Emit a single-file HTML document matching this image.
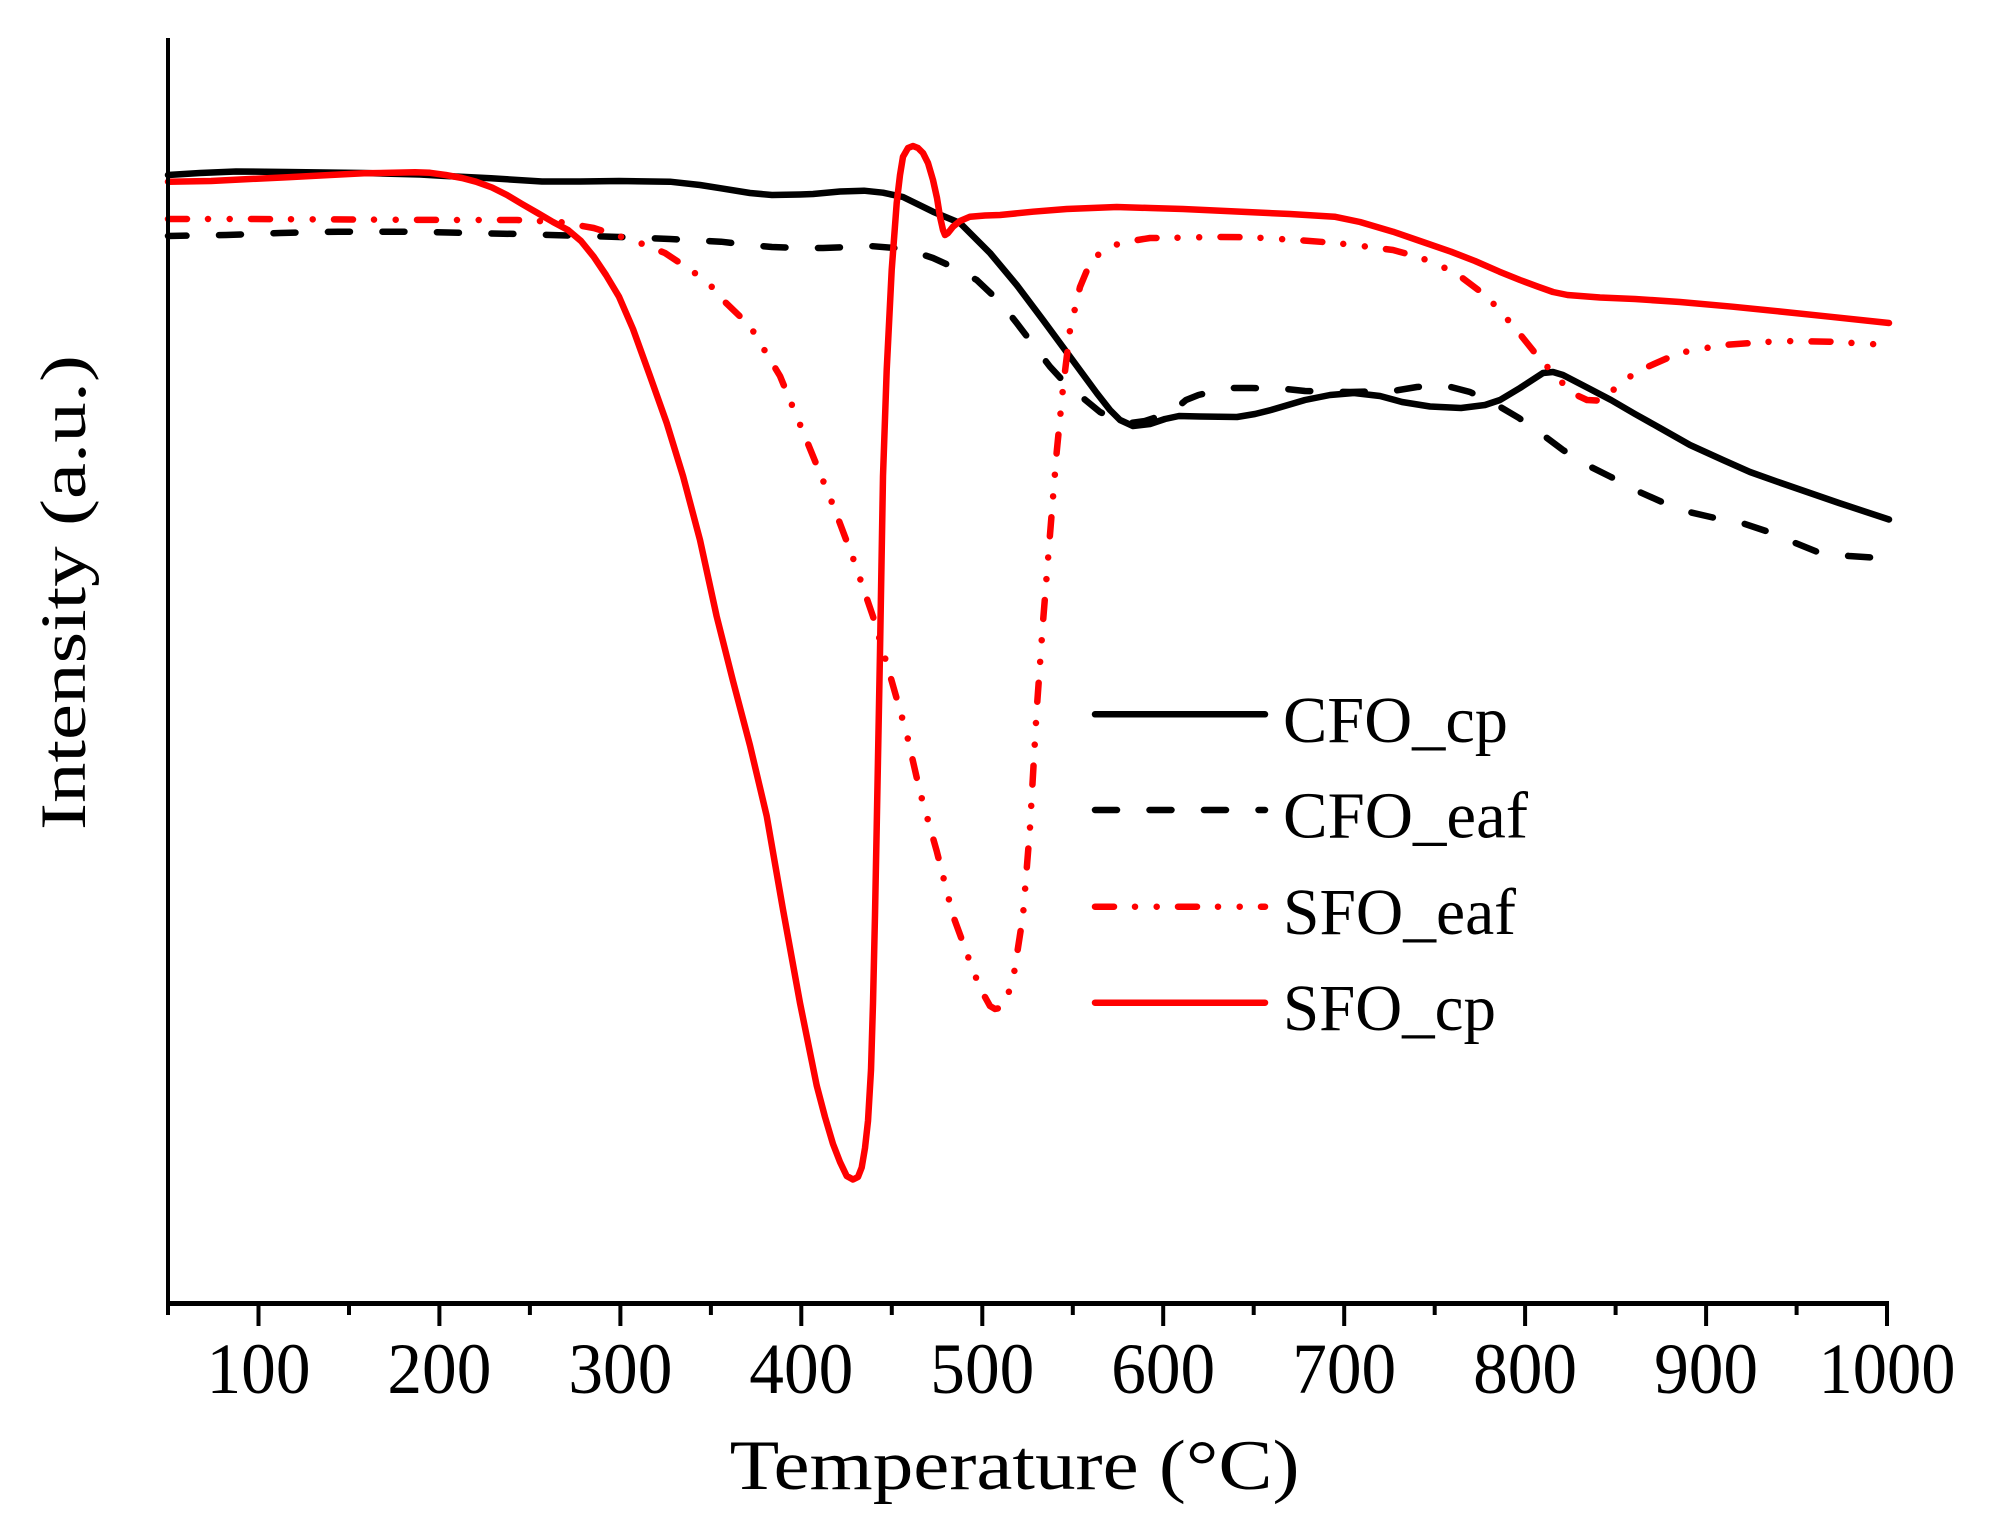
<!DOCTYPE html>
<html>
<head>
<meta charset="utf-8">
<style>
html,body{margin:0;padding:0;background:#fff;}
svg{display:block;}
text{font-family:"Liberation Serif","DejaVu Serif",serif;fill:#000;}
</style>
</head>
<body>
<svg width="2004" height="1531" viewBox="0 0 2004 1531" xmlns="http://www.w3.org/2000/svg">
<rect width="2004" height="1531" fill="#fff"/>

<!-- curves -->
<g fill="none" stroke-linejoin="round" stroke-linecap="round" stroke-width="6.5">
<!-- CFO_eaf black dashed -->
<polyline stroke="#000" stroke-dasharray="22 32.5" stroke-dashoffset="3.5" points="168,236 226,235 280,233 338.6,231.7 415,231.7 470,233 517,234 570,235.5 619,237 670,239 721,241.7 750,245 772,247 800,248 823,248 850,247 870,246 895,248 915,252 933,258 955,268 976.7,280 1000,302 1016.7,323 1035,347 1050,366.7 1065,383 1083,398 1100,412 1117,420 1130,423 1145,421 1160,416 1174,410 1186,400 1198.5,395 1228,388 1252,388 1286,389 1305,391 1350,392 1393,391 1417,387 1440,386 1451,387 1470,392 1497,405 1519,418 1543,435 1563,450 1587,465 1611,477 1635,490 1662,502 1689,512 1715,518 1742,523 1766,531 1793,542 1820,553 1849,556 1880,558"/>
<!-- CFO_cp black solid -->
<polyline stroke="#000" points="168,175 200,173 236,171.5 287,172 364,173 420,174.5 441,175.7 491,178.3 542,181.5 580,181.5 619,181 670,181.7 700,185 721,188.3 750,193 772,195 800,194.5 813,194 840,191.5 864,190.7 883,192.7 903,197 933,211.7 960,223 990,253 1016.7,285 1043,320 1070,356.7 1096.7,393 1110,410 1120,420 1133,426 1150,424 1165,419 1179,416 1200,416.5 1237,417 1255,414 1271,410 1305,400 1330,395 1354,393 1380,396 1402,402 1430,406.5 1461,408 1485,405 1500,400 1520,388 1543,373 1553,372 1563,375 1590,389 1611,400 1635,414 1660,428 1690,445 1723,460 1750,472 1781,483 1810,493 1839,503 1889,519.5"/>
<!-- SFO_eaf red dash-dot-dot -->
<polyline stroke="#ff0000" stroke-dasharray="19 21 0 21.7 0 21.3" points="168,219 250,219 350,219.5 450,220 517,220 560,222 593.7,228 619,236 640,243 665,253 690.6,270 708.5,283 723,300 750,326 780,376 806.7,440.7 833,505 853,558 873,616.5 890,675 906.7,733.8 920,792 936.7,851 953,915.5 970,962 980,988 990,1006 995,1009 1000,1008 1006,1000 1013,980 1023,915.5 1030,827.5 1036.7,710 1043,622 1050,534.5 1056.7,452 1063,388 1070,330 1080,287 1090,263 1103,250 1115,245 1127,241.7 1150,238 1160,238 1217,237 1250,237.2 1296,240 1330,242.5 1354,245 1393,250 1415,256 1431.5,261.7 1447,269 1460.7,276.7 1485,295 1499.5,310 1519,333 1538,356.7 1553,373 1572,393 1587,400 1597,400.5 1606,398 1621,381.7 1645,368 1679,353 1723,345 1781,341 1830,341.7 1889,345"/>
<!-- SFO_cp red solid -->
<polyline stroke="#ff0000" points="168,181.7 211,181 250,179 287.5,177.3 330,175 364,173.3 415,172.3 430,172.8 445.7,175 462,178 476,181.7 492,187.5 507,195 522,204 537.6,213 553,222 568,230 581,241 593.7,256.7 606,275 619,296.7 633,329 650,376 666.7,423 683,476 700,540 716.7,616.5 733,681 750,745.5 766.7,816 783,909.6 800,1003 816.7,1085.5 825,1117 833,1144 840,1162 846.7,1176 853,1179.5 858,1177 861.7,1167.5 865,1148 868,1121 871,1070 873,1003 875,915 876.7,827.5 880,651.7 883,476 886.7,370 891.7,270 896.7,203 900,175 903,156.7 908,148 913,146 918,148 923,153 928,163 933,180 937,198 940,216.7 943,230 945,235 948,233 953,226.7 960,221 970,216.7 985,215.5 1000,215 1033,211.7 1066.7,209 1116.7,207 1150,208 1183,209 1247,212 1290,214 1334.5,216.7 1360,222 1393,231.7 1420,241 1451,251.7 1475,261 1499.5,271.7 1520,280 1538,286.7 1553,292 1567.5,295 1600,297.5 1635,299 1680,302 1732.5,306.7 1780,311.5 1829.6,316.7 1889,323"/>
</g>

<!-- axes -->
<g stroke="#000" fill="none">
<line x1="168" y1="38" x2="168" y2="1306" stroke-width="4"/>
<line x1="166" y1="1303.5" x2="1889" y2="1303.5" stroke-width="5"/>
<g stroke-width="4">
<line x1="258.5" y1="1303" x2="258.5" y2="1326"/>
<line x1="439.4" y1="1303" x2="439.4" y2="1326"/>
<line x1="620.4" y1="1303" x2="620.4" y2="1326"/>
<line x1="801.3" y1="1303" x2="801.3" y2="1326"/>
<line x1="982.3" y1="1303" x2="982.3" y2="1326"/>
<line x1="1163.2" y1="1303" x2="1163.2" y2="1326"/>
<line x1="1344.2" y1="1303" x2="1344.2" y2="1326"/>
<line x1="1525.1" y1="1303" x2="1525.1" y2="1326"/>
<line x1="1706.1" y1="1303" x2="1706.1" y2="1326"/>
<line x1="1887" y1="1303" x2="1887" y2="1326"/>
<line x1="168" y1="1303" x2="168" y2="1315"/>
<line x1="349" y1="1303" x2="349" y2="1315"/>
<line x1="529.9" y1="1303" x2="529.9" y2="1315"/>
<line x1="710.9" y1="1303" x2="710.9" y2="1315"/>
<line x1="891.8" y1="1303" x2="891.8" y2="1315"/>
<line x1="1072.8" y1="1303" x2="1072.8" y2="1315"/>
<line x1="1253.7" y1="1303" x2="1253.7" y2="1315"/>
<line x1="1434.7" y1="1303" x2="1434.7" y2="1315"/>
<line x1="1615.6" y1="1303" x2="1615.6" y2="1315"/>
<line x1="1796.6" y1="1303" x2="1796.6" y2="1315"/>
</g>
</g>

<!-- tick labels -->
<g font-size="72">
<text x="206.5" y="1393" textLength="104" lengthAdjust="spacingAndGlyphs">100</text>
<text x="387.4" y="1393" textLength="104" lengthAdjust="spacingAndGlyphs">200</text>
<text x="568.4" y="1393" textLength="104" lengthAdjust="spacingAndGlyphs">300</text>
<text x="749.3" y="1393" textLength="104" lengthAdjust="spacingAndGlyphs">400</text>
<text x="930.3" y="1393" textLength="104" lengthAdjust="spacingAndGlyphs">500</text>
<text x="1111.2" y="1393" textLength="104" lengthAdjust="spacingAndGlyphs">600</text>
<text x="1292.2" y="1393" textLength="104" lengthAdjust="spacingAndGlyphs">700</text>
<text x="1473.1" y="1393" textLength="104" lengthAdjust="spacingAndGlyphs">800</text>
<text x="1654.1" y="1393" textLength="104" lengthAdjust="spacingAndGlyphs">900</text>
<text x="1818.5" y="1393" textLength="137" lengthAdjust="spacingAndGlyphs">1000</text>
</g>

<!-- axis titles -->
<text x="729.6" y="1489" font-size="71" textLength="570" lengthAdjust="spacingAndGlyphs">Temperature (°C)</text>
<text transform="translate(85,830) rotate(-90)" x="0" y="0" font-size="65" textLength="475" lengthAdjust="spacingAndGlyphs">Intensity (a.u.)</text>

<!-- legend -->
<g fill="none" stroke-linecap="round" stroke-width="6.5">
<line x1="1095" y1="714.3" x2="1265" y2="714.3" stroke="#000"/>
<line x1="1095" y1="810" x2="1265" y2="810" stroke="#000" stroke-dasharray="22 32.5"/>
<line x1="1095" y1="906.7" x2="1265" y2="906.7" stroke="#ff0000" stroke-dasharray="19 21 0 21.7 0 21.3"/>
<line x1="1095" y1="1002.7" x2="1265" y2="1002.7" stroke="#ff0000"/>
</g>
<g font-size="66">
<text x="1283" y="741.8" textLength="225" lengthAdjust="spacingAndGlyphs">CFO_cp</text>
<text x="1283" y="837.5" textLength="245" lengthAdjust="spacingAndGlyphs">CFO_eaf</text>
<text x="1283" y="934.2" textLength="233" lengthAdjust="spacingAndGlyphs">SFO_eaf</text>
<text x="1283" y="1030.2" textLength="213" lengthAdjust="spacingAndGlyphs">SFO_cp</text>
</g>
</svg>
</body>
</html>
